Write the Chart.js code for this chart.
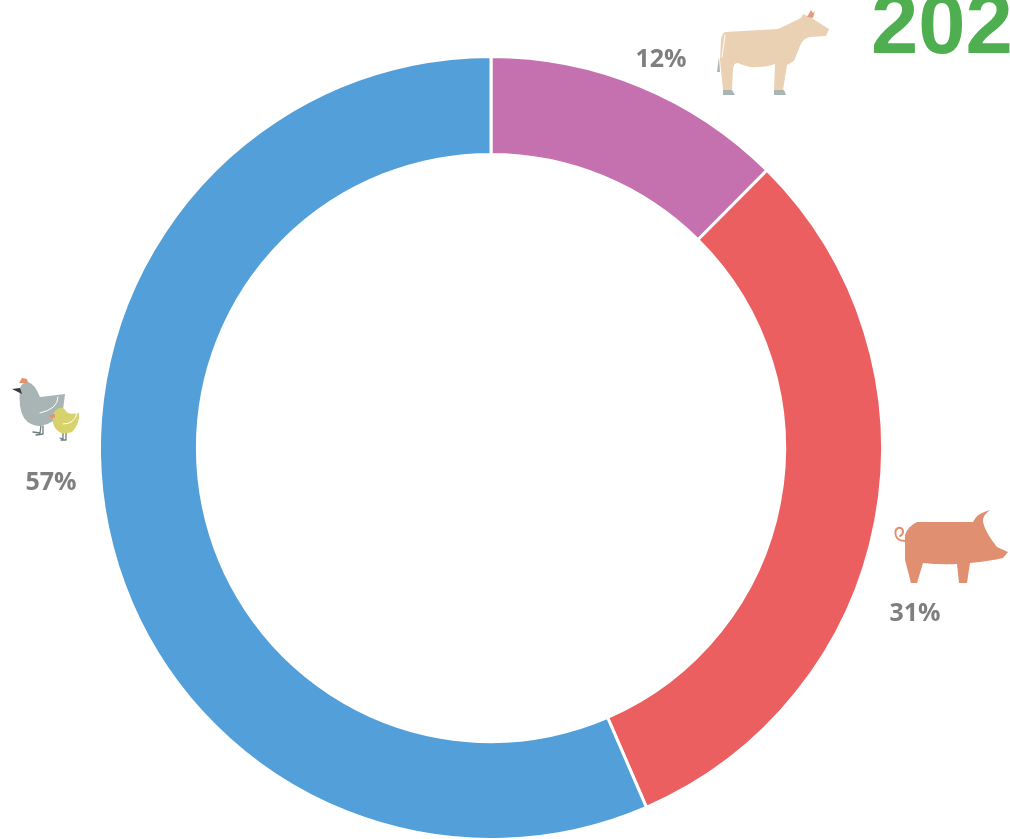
<!DOCTYPE html>
<html>
<head>
<meta charset="utf-8">
<style>
  html, body { margin: 0; padding: 0; background: #fff; overflow: hidden; height: 839px; }
  canvas { display: block; }
</style>
</head>
<body>
<canvas id="doughnutChart" width="1010" height="845"></canvas>
<script src="https://cdn.jsdelivr.net/npm/chart.js@4"></script>
<script>
var categories = ['Bovins', 'Porcins', 'Volailles'];
var shares = [12.45, 31.05, 56.5];
var shareLabels = ['12%', '31%', '57%'];
var sliceColors = ['#C571B0', '#EC5F61', '#529FD9'];
var yearText = '202';

// where the text next to the ring goes
var labelSpots = [[661, 67], [915, 621], [51, 490]];

// little animal drawings, page coordinates
var icons = [
  // cow
  { fill: '#EBD1B3', d: 'M725 32 Q722 33 721 40 L720 60 L723 90 L732 90 L733 69 Q734 62 738 63 Q748 68 757 67 Q768 67 775 64 L774 90 L783 90 L787 65 L794 61 L800 46 Q803 38 810 37 L826 36 L829 29 L810 17 L803 14 L801 18 L778 29 Z' },
  { fill: '#A9B5B5', d: 'M723 90 L732 90 L735 95 L723 95 Z M774 90 L784 90 L786 95 L774 95 Z M719 57 L720 72 L717 72 Z' },
  { fill: '#E39A80', d: 'M807 17 L811 10 L813 13 L815 11 L813 18 Z' },
  { stroke: '#FFFFFF', width: 1, d: 'M725 35 L722 57' },
  // pig
  { fill: '#E09070', d: 'M905 535 Q908 526 917 522 L973 522 Q977 513 990 510 Q982 516 983 522 Q985 532 997 547 L1008 552 L1003 558 Q990 561 970 563 L967 583 L959 583 L957 564 Q940 565 923 563 L917 583 L911 583 L905 560 Z' },
  { stroke: '#E09070', width: 2, d: 'M905 541 Q898 541 896 536 Q894 530 898 528 Q902 527 903 531 Q903 535 900 536' },
  // hen
  { stroke: '#6F7C7E', width: 1.3, d: 'M41 425 L40 433 L33 432 M43 426 L43 434 L36 435' },
  { fill: '#A9B5B5', d: 'M20 388 Q22 382 28 382 Q35 384 40 397 L65 394 L63 410 Q55 424 40 426 Q30 426 24 418 Q18 408 20 388 Z' },
  { fill: '#2F3A40', d: 'M12 389 L20 388 L22 394 Z' },
  { fill: '#E8906C', d: 'M19 383 L22 378 L27 379 L28 383 Z' },
  { stroke: '#FFFFFF', width: 1, d: 'M58 397 Q58 409 40 413' },
  // chick
  { stroke: '#6F7C7E', width: 1.3, d: 'M63 432 L63 439 L60 438 M66 432 L66 440 L61 440' },
  { fill: '#D8D26C', d: 'M66 411 Q68 415 79 413 Q80 424 72 432 Q66 434 61 433 Q54 429 53 423 Q52 413 56 410 Q62 405 66 411 Z' },
  { fill: '#E8906C', d: 'M47 416 L55 414 L55 418 Z' },
  { stroke: '#FFFFFF', width: 1, d: 'M77 413 Q75 424 63 424' }
];

var ringDecorations = {
  id: 'ringDecorations',
  afterDraw: function (chart) {
    var c = chart.ctx;
    c.save();
    c.filter = 'blur(0.6px)';
    c.lineJoin = 'round';
    c.lineCap = 'round';
    icons.forEach(function (ic) {
      var p = new Path2D(ic.d);
      if (ic.fill) {
        c.fillStyle = ic.fill;
        c.fill(p);
      } else {
        c.strokeStyle = ic.stroke;
        c.lineWidth = ic.width;
        c.stroke(p);
      }
    });
    c.filter = 'none';

    c.textAlign = 'center';
    c.textBaseline = 'alphabetic';
    c.fillStyle = '#7F7F7F';
    c.font = "bold 25px 'Open Sans', sans-serif";
    shareLabels.forEach(function (t, i) {
      c.fillText(t, labelSpots[i][0], labelSpots[i][1]);
    });

    c.textAlign = 'left';
    c.fillStyle = '#4FAF50';
    c.font = "bold 85px 'Liberation Sans', Arial, sans-serif";
    c.fillText(yearText, 871, 53);
    c.restore();
  }
};

var ctx = document.getElementById('doughnutChart').getContext('2d');

new Chart(ctx, {
  type: 'doughnut',
  data: {
    labels: categories,
    datasets: [{
      data: shares,
      backgroundColor: sliceColors,
      borderColor: '#FFFFFF',
      borderWidth: 3
    }]
  },
  options: {
    responsive: false,
    animation: false,
    cutout: '75%',
    layout: { padding: { left: 98, right: 126, top: 55, bottom: 4 } },
    plugins: {
      legend: { display: false },
      tooltip: { enabled: false }
    }
  },
  plugins: [ringDecorations]
});
</script>
</body>
</html>
